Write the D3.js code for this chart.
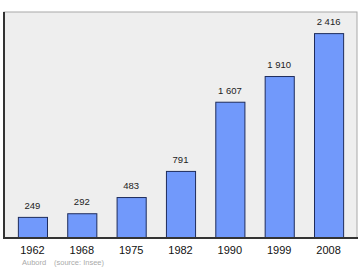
<!DOCTYPE html>
<html>
<head>
<meta charset="utf-8">
<script src="https://cdn.jsdelivr.net/npm/d3@7"></script>
<style>
  body { margin: 0; background: #fff; }
  svg { display: block; font-family: 'Liberation Sans', Arial, sans-serif; }
</style>
</head>
<body>
<script>
// chart data
const years = ['1962', '1968', '1975', '1982', '1990', '1999', '2008']
const population = [249, 292, 483, 791, 1607, 1910, 2416]
const labels = ['249', '292', '483', '791', '1 607', '1 910', '2 416']
const town = 'Aubord'
const source = '(source: Insee)'

const width = 360,
    height = 270
const frame = {left: 4, right: 357, top: 12, bottom: 238}

const svg = d3.select('body').append('svg')
    .attr('width', width)
    .attr('height', height)

// background panel
svg.append('rect')
    .attr('x', frame.left)
    .attr('y', frame.top)
    .attr('width', frame.right - frame.left)
    .attr('height', frame.bottom - frame.top)
    .attr('fill', '#eeeeee')
    .attr('stroke', '#a8a8a8')
    .attr('stroke-width', 1)

// scales
const x = d3.scaleBand()
    .domain(years)
    .range([8, 353])
    .paddingInner(0.41)
    .paddingOuter(0.2)
const y = d3.scaleLinear()
    .domain([0, 2665])
    .range([frame.bottom, frame.top])

// bars
svg.selectAll('.bar')
    .data(population)
    .enter().append('rect')
    .attr('class', 'bar')
    .attr('x', (d, i) => x(years[i]) + 0.5)
    .attr('width', x.bandwidth())
    .attr('y', d => y(d) + 0.5)
    .attr('height', d => frame.bottom - y(d))
    .attr('fill', '#7199fb')
    .attr('stroke', '#1e2c5c')
    .attr('stroke-width', 1)

// value labels
svg.selectAll('.val')
    .data(population)
    .enter().append('text')
    .attr('class', 'val')
    .attr('x', (d, i) => x(years[i]) + x.bandwidth() / 2)
    .attr('y', d => y(d) - 8)
    .attr('text-anchor', 'middle')
    .attr('font-size', 9.5)
    .attr('fill', '#222')
    .text((d, i) => labels[i])

// shadow edges on left and bottom
svg.append('path')
    .attr('d', 'M' + frame.left + ',' + frame.top + 'V' + frame.bottom + 'H' + (frame.right + 1))
    .attr('fill', 'none')
    .attr('stroke', '#333')
    .attr('stroke-width', 2)

// x axis labels
svg.append('g')
    .attr('transform', 'translate(0,' + frame.bottom + ')')
    .call(d3.axisBottom(x).tickSize(0).tickPadding(8))
    .call(g => g.select('.domain').remove())
    .selectAll('text')
    .attr('font-family', 'Liberation Sans, Arial, sans-serif')
    .attr('font-size', 11)
    .attr('fill', '#111')

// footer
svg.append('text')
    .attr('x', 22)
    .attr('y', 265)
    .attr('font-size', 7.5)
    .attr('fill', '#aaa')
    .text(town)
svg.append('text')
    .attr('x', 54)
    .attr('y', 265)
    .attr('font-size', 7.5)
    .attr('fill', '#aaa')
    .text(source)
</script>
</body>
</html>
